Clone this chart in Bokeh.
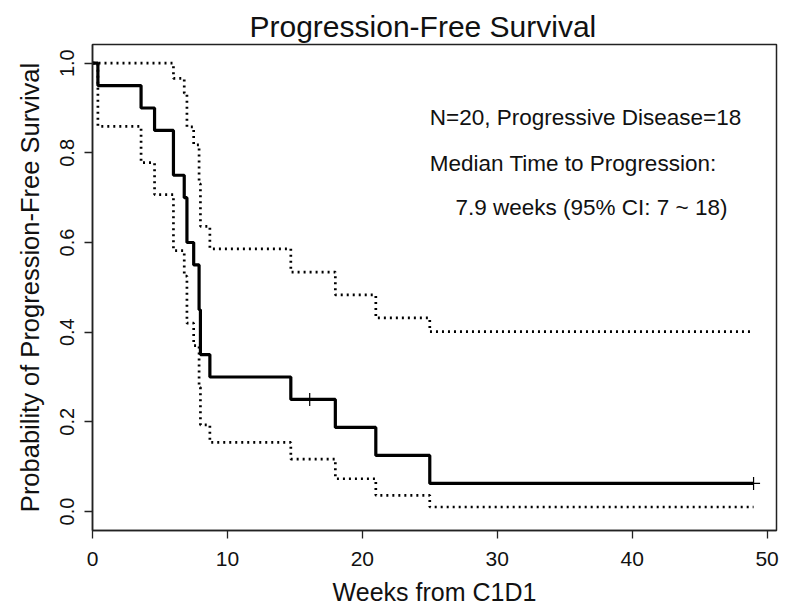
from bokeh.plotting import figure
from bokeh.models import Range1d, FixedTicker, ColumnDataSource
from bokeh.core.properties import value
from bokeh.embed import file_html
from bokeh.resources import INLINE

# Kaplan-Meier estimate (weeks from C1D1)
times = [0.0, 0.4, 3.6, 4.6, 6.0, 6.8, 7.0, 7.5, 7.9, 8.0, 8.7, 14.7, 18.0, 21.0, 25.0, 49.0]
surv = [1.0, 0.95, 0.90, 0.85, 0.75, 0.70, 0.60, 0.55, 0.45, 0.35, 0.30, 0.25, 0.1875, 0.125, 0.0625, 0.0625]
upper = [1.0, 1.0, 1.0, 1.0, 0.966, 0.933, 0.858, 0.818, 0.731, 0.636, 0.586, 0.534, 0.483, 0.432, 0.401, 0.401]
lower = [1.0, 0.859, 0.778, 0.707, 0.582, 0.525, 0.420, 0.370, 0.277, 0.193, 0.154, 0.117, 0.073, 0.036, 0.010, 0.010]

# censored observations
cens_t = [16.1, 49.0]
cens_s = [0.25, 0.0625]

x_ticks = [0, 10, 20, 30, 40, 50]
y_ticks = [0.0, 0.2, 0.4, 0.6, 0.8, 1.0]

notes = ["N=20, Progressive Disease=18", "Median Time to Progression:", "7.9 weeks (95% CI: 7 ~ 18)"]
note_x = [25.0, 25.0, 26.9]
note_y = [0.878, 0.776, 0.679]

FONT = "Liberation Sans"
INK = "#111111"

p = figure(
    frame_width=684, frame_height=486,
    x_range=Range1d(0, 50.7), y_range=Range1d(-0.0424, 1.0417),
    output_backend="svg", toolbar_location=None,
    min_border_left=92, min_border_right=6, min_border_top=44, min_border_bottom=70,
    title="Progression-Free Survival",
)
p.background_fill_color = "white"
p.border_fill_color = "white"
p.outline_line_color = "#222222"
p.outline_line_width = 1.5
p.xgrid.visible = False
p.ygrid.visible = False

p.title.text_font = FONT
p.title.text_font_size = "30px"
p.title.text_font_style = "normal"
p.title.text_color = INK
p.title.align = "left"
p.title.offset = 157
p.title.standoff = 4

for ax in (p.xaxis[0], p.yaxis[0]):
    ax.axis_line_color = "#222222"
    ax.axis_line_width = 1.5
    ax.major_tick_line_color = "#222222"
    ax.major_tick_line_width = 1.3
    ax.major_tick_out = 8
    ax.major_tick_in = 0
    ax.minor_tick_line_color = None
    ax.major_label_text_font = FONT
    ax.major_label_text_color = INK
    ax.axis_label_text_font = FONT
    ax.axis_label_text_font_style = "normal"
    ax.axis_label_text_color = INK

p.xaxis[0].major_label_text_font_size = "21px"
p.yaxis[0].major_label_text_font_size = "20px"
p.xaxis[0].axis_label_text_font_size = "25px"
p.yaxis[0].axis_label_text_font_size = "25.5px"

p.xaxis[0].ticker = FixedTicker(ticks=x_ticks)
p.yaxis[0].ticker = FixedTicker(ticks=y_ticks)
p.yaxis[0].major_label_overrides = {t: f"{t:.1f}" for t in y_ticks}
p.yaxis[0].major_label_orientation = "parallel"
p.xaxis[0].axis_label = "Weeks from C1D1"
p.yaxis[0].axis_label = "Probability of Progression-Free Survival"
p.xaxis[0].major_label_standoff = 13
p.xaxis[0].axis_label_standoff = 9
p.yaxis[0].major_label_standoff = 10
p.yaxis[0].axis_label_standoff = 14

src = ColumnDataSource(dict(t=times, s=surv, u=upper, l=lower))
p.step("t", "u", source=src, mode="after", line_color="black", line_width=2.7, line_dash="2 4")
p.step("t", "l", source=src, mode="after", line_color="black", line_width=2.7, line_dash="2 4")
p.step("t", "s", source=src, mode="after", line_color="black", line_width=3.2)
p.scatter(cens_t, cens_s, marker="cross", size=13, line_color="black", line_width=1.2)

p.text(note_x, note_y, text=notes, text_font=value(FONT), text_font_size="22.5px",
       text_color=INK, text_baseline="alphabetic", text_align="left")

open("out.html", "w").write(file_html(p, INLINE))
